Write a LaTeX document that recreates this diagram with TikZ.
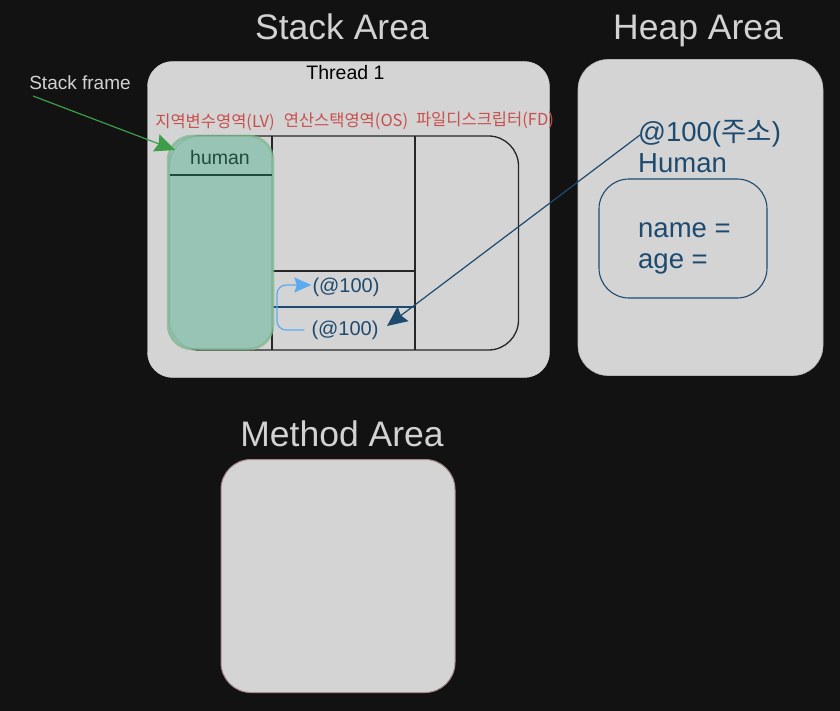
\documentclass[tikz,border=0pt]{standalone}
\usepackage{fontspec}
\setmainfont{Liberation Sans}
\newfontfamily\kr{Noto Sans CJK KR}
\usetikzlibrary{arrows.meta,calc}
\definecolor{bgc}{HTML}{121212}
\definecolor{panelc}{HTML}{D4D4D4}
\definecolor{titlec}{HTML}{D2D2D2}
\definecolor{redc}{HTML}{C8504C}
\definecolor{navyc}{HTML}{1D4A6E}
\definecolor{greenfill}{HTML}{93C3B3}
\definecolor{greenline}{HTML}{7DB88A}
\definecolor{greenarrow}{HTML}{3C9C48}
\definecolor{humanc}{HTML}{214B3E}
\definecolor{lightblue}{HTML}{5AAAF0}
\definecolor{methodline}{HTML}{A88A88}
\definecolor{heapline}{HTML}{B8B8B8}
\tikzset{
  panel/.style={fill=panelc, rounded corners=25pt, inner sep=0pt},
  titletext/.style={text=titlec, font=\fontsize{35.5}{40}\selectfont, inner sep=0pt, anchor=base},
  regionlabel/.style={text=redc, font=\kr\fontsize{16.5}{20}\selectfont, inner sep=0pt},
  heaptext/.style={text=navyc, font=\fontsize{27.5}{32}\selectfont, inner sep=0pt, anchor=base west},
  refval/.style={text=navyc, font=\fontsize{20}{24}\selectfont, inner sep=0pt},
  gridline/.style={draw=black!85, line width=1.3pt},
  bigtip/.style={-{Stealth[length=20pt,width=18pt,inset=2.5pt]}},
}
\begin{document}
\begin{tikzpicture}[x=1pt,y=-1pt]
\fill[bgc] (0,0) rectangle (840,711);
\useasboundingbox (0,0) rectangle (840,711);

% titles
\node[titletext] (stacktitle) at (342,39.5) {Stack Area};
\node[titletext] (heaptitle) at (698,39.5) {Heap Area};
\node[titletext] (methodtitle) at (342,446.5) {Method Area};

% panels
\node[panel, draw=panelc, minimum width=402pt, minimum height=316pt] (stack) at (348.5,219.5) {};
\node[panel, draw=heapline, line width=0.6pt, rounded corners=30pt, minimum width=245pt, minimum height=316pt] (heap) at (700.5,217.5) {};
\node[panel, draw=methodline, line width=1pt, rounded corners=30pt, minimum width=234pt, minimum height=233pt] (method) at (338,576) {};

\node[text=black, font=\fontsize{19.5}{22}\selectfont, inner sep=0pt] (thread) at (345.5,73) {Thread 1};

% region labels
\node[regionlabel] (lvlabel) at (215,122) {지역변수영역(LV)};
\node[regionlabel] (oslabel) at (346,121) {연산스택영역(OS)};
\node[regionlabel] (fdlabel) at (485,120) {파일디스크립터(FD)};

% frame
\node[gridline, rounded corners=30pt, minimum width=349pt, minimum height=214pt, inner sep=0pt] (frame) at (344,243) {};
\draw[gridline] (272,136) -- (272,350);
\draw[gridline] (415,136) -- (415,350);
\draw[gridline] (272,271) -- (415,271);
\draw[navyc, line width=1.3pt] (272,307) -- (415,307);

% LV column (stack frame)
\node[fill=greenfill, fill opacity=0.92, draw=greenline, draw opacity=0.7, line width=2.5pt, rounded corners=24pt, minimum width=105pt, minimum height=213pt, inner sep=0pt] (lv) at (220.5,242.5) {};
\draw[humanc, line width=1.3pt] (170,175) -- (272,175);
\node[text=humanc, font=\fontsize{19.5}{22}\selectfont, inner sep=0pt] (human) at (220,158) {human};

% OS values
\node[refval] (upref) at (346,287) {(@100)};
\node[refval] (lowref) at (345,330) {(@100)};

% heap object
\node[heaptext] (addr) at (638,142) {@100({\kr 주소})};
\node[heaptext] (htype) at (638,172.5) {Human};
\node[draw=navyc, line width=1.1pt, rounded corners=30pt, minimum width=168pt, minimum height=119pt, inner sep=0pt] (obj) at (683,238.5) {};
\node[heaptext] (fname) at (638,238) {name =};
\node[heaptext] (fage) at (638,268.5) {age =};

% stack frame label
\node[text=titlec, font=\fontsize{19}{22}\selectfont, inner sep=0pt] (sflabel) at (80,83) {Stack frame};

% connectors
\coordinate (sfstart) at (33,96);
\coordinate (lvtip) at (175,150);
\draw[greenarrow, line width=1.2pt, bigtip] (sfstart) -- (lvtip);

\coordinate (addrstart) at (640,135);
\coordinate (reftip) at (387,326);
\draw[navyc, line width=1.2pt, bigtip] (addrstart) -- (reftip);

\draw[lightblue, line width=1.2pt, rounded corners=9pt, -{Stealth[length=17pt,width=15pt,inset=2.5pt]}] (lowref.west) ++(-7,0) -- (277,330) -- (277,285) -- ($(upref.west)+(-1,-2)$);
\end{tikzpicture}
\end{document}
